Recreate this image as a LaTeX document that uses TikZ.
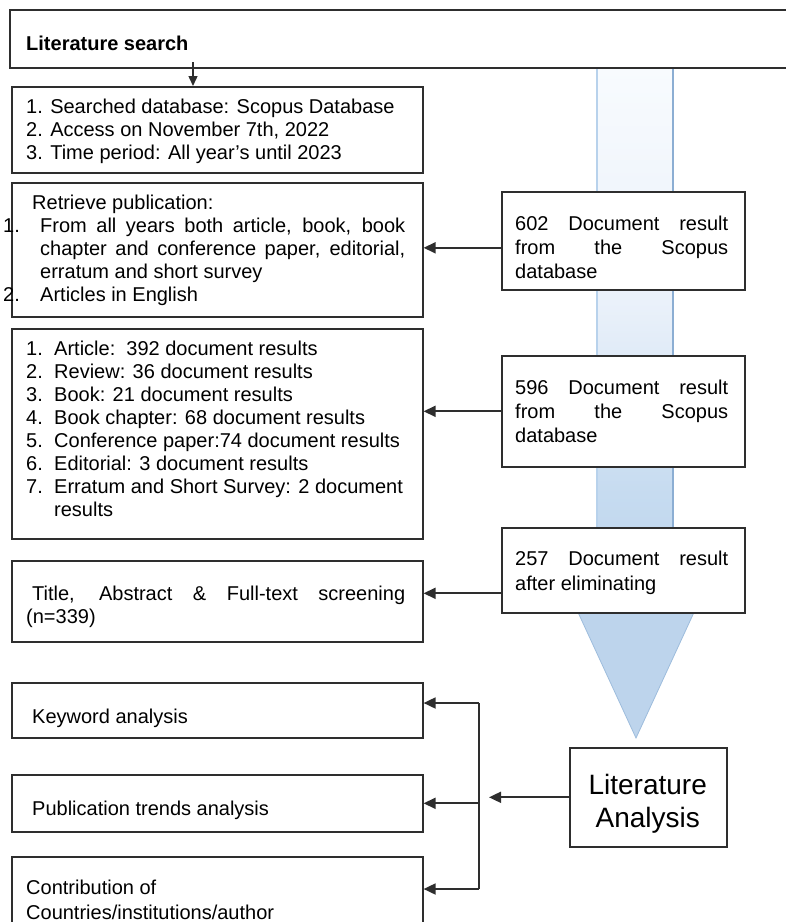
\documentclass[tikz,border=0pt]{standalone}
\usepackage{fontspec}
\setmainfont{Liberation Sans}
\usetikzlibrary{arrows.meta,calc}
\definecolor{ln}{HTML}{2E2E2E}
\definecolor{shA}{HTML}{BCD4EC}
\definecolor{shB}{HTML}{C6DBF0}
\definecolor{shC}{HTML}{EAF1FA}
\definecolor{shD}{HTML}{F8FBFE}
\definecolor{edgeL}{HTML}{B8D2EC}
\definecolor{edgeR}{HTML}{8CAED3}
\definecolor{headfill}{HTML}{BDD4EC}
\definecolor{headedge}{HTML}{9DBCDC}
\pgfdeclareverticalshading{shaftsh}{100bp}{color(0bp)=(shA); color(25bp)=(shA); color(35bp)=(shB); color(53bp)=(shC); color(75bp)=(shD); color(100bp)=(shD)}
\newcommand{\mytext}[3][23pt]{\parbox[t]{#2}{\fontsize{20}{#1}\selectfont #3}}
\begin{document}
\begin{tikzpicture}[x=1pt,y=-1pt,
  box/.style={draw=ln,line width=1.6pt,rectangle,inner sep=0pt,anchor=north west},
  wbox/.style={box,fill=white},
  txt/.style={inner sep=0pt,anchor=base west},
  arr/.style={draw=ln,line width=1.8pt,-{Triangle[length=12pt,width=11pt]}},
  sarr/.style={draw=ln,line width=1.4pt,-{Triangle[length=10pt,width=9pt]}},
  bus/.style={draw=ln,line width=1.8pt}]
\useasboundingbox (0,0) rectangle (786,922);
\clip (0,0) rectangle (786,922);
% big blue arrow
\fill[shading=shaftsh] (597,67) rectangle (673,600);
\draw[edgeL,line width=1.6pt] (597,67) -- (597,600);
\draw[edgeR,line width=1.6pt] (673,67) -- (673,600);
\filldraw[fill=headfill,draw=headedge,line width=0.8pt] (570,595) -- (702,595) -- (636,738) -- cycle;
% boxes
\node[box,minimum width=800pt,minimum height=58pt] (top) at (9,9) {};
\node[box,minimum width=411pt,minimum height=86pt] (b2) at (11,86) {};
\node[box,minimum width=411pt,minimum height=134pt] (b3) at (11,182) {};
\node[box,minimum width=411pt,minimum height=210pt] (b4) at (11,328) {};
\node[box,minimum width=411pt,minimum height=81pt] (b5) at (11,560) {};
\node[box,minimum width=411pt,minimum height=55pt] (b6) at (11,682) {};
\node[box,minimum width=411pt,minimum height=57pt] (b7) at (11,774) {};
\node[box,minimum width=411pt,minimum height=100pt] (b8) at (11,856) {};
\node[wbox,minimum width=243pt,minimum height=98pt] (r1) at (501,191) {};
\node[wbox,minimum width=243pt,minimum height=111pt] (r2) at (501,355) {};
\node[wbox,minimum width=243pt,minimum height=85pt] (r3) at (501,527) {};
\node[wbox,minimum width=157pt,minimum height=99pt] (lit) at (569,747) {};
% texts
\node[txt,font=\bfseries\fontsize{20}{23}\selectfont] (t1) at (26,50) {Literature search};
\node[txt] (t2) at (26,113) {\mytext{390pt}{1. Searched database: Scopus Database\\2. Access on November 7th, 2022\\3. Time period: All year's until 2023}};
\node[txt] (t3) at (3,209) {\mytext{420pt}{\hspace*{29pt}Retrieve publication:\\
\makebox[37pt][l]{1.}\makebox[365pt][s]{From all years both article, book, book}\\
\hspace*{37pt}\makebox[365pt][s]{chapter and conference paper, editorial,}\\
\hspace*{37pt}erratum and short survey\\
\makebox[37pt][l]{2.}Articles in English}};
\node[txt] (t4) at (26,355) {\mytext{400pt}{\makebox[28pt][l]{1.}Article:\ \ 392 document results\\
\makebox[28pt][l]{2.}Review: 36 document results\\
\makebox[28pt][l]{3.}Book: 21 document results\\
\makebox[28pt][l]{4.}Book chapter: 68 document results\\
\makebox[28pt][l]{5.}Conference paper:74 document results\\
\makebox[28pt][l]{6.}Editorial: 3 document results\\
\makebox[28pt][l]{7.}Erratum and Short Survey: 2 document\\
\hspace*{28pt}results}};
\node[txt] (t5) at (26,600) {\mytext{400pt}{\hspace*{6pt}\makebox[373pt][s]{Title, Abstract \& Full-text screening}\\(n=339)}};
\node[txt,font=\fontsize{20}{23}\selectfont] (t6) at (32,723) {Keyword analysis};
\node[txt,font=\fontsize{20}{23}\selectfont] (t7) at (32,815) {Publication trends analysis};
\node[txt] (t8) at (26,894) {\mytext[25pt]{400pt}{Contribution of\\Countries/institutions/author}};
\node[txt] (tr1) at (515,230) {\mytext[24pt]{220pt}{\makebox[213pt][s]{602 Document result}\\\makebox[213pt][s]{from the Scopus}\\database}};
\node[txt] (tr2) at (515,394) {\mytext[24pt]{220pt}{\makebox[213pt][s]{596 Document result}\\\makebox[213pt][s]{from the Scopus}\\database}};
\node[txt] (tr3) at (515,565) {\mytext[25pt]{220pt}{\makebox[213pt][s]{257 Document result}\\after eliminating}};
\node[txt] (tlit) at (569,794) {\parbox[t]{157pt}{\centering\fontsize{28}{33}\selectfont Literature\\Analysis}};
% connectors
\coordinate (s) at (193,62);
\draw[sarr] (s) -- (s |- b2.north);
\coordinate (a1) at ($(r1.west)+(0,7)$);
\coordinate (a3) at ($(r3.west)+(0,23)$);
\draw[arr] (a1) -- (a1 -| b3.east);
\draw[arr] (r2.west) -- (r2.west -| b4.east);
\draw[arr] (a3) -- (a3 -| b5.east);
\coordinate (j) at (489,796);
\draw[arr] (lit.west) -- (lit.west -| j);
\coordinate (bt) at (479,703);
\coordinate (bb) at (479,889);
\draw[bus] (bt) -- (bb);
\draw[arr] (bt) -- (bt -| b6.east);
\draw[arr] (bt |- b7.east) -- (b7.east);
\draw[arr] (bb) -- (bb -| b8.east);
\end{tikzpicture}
\end{document}
